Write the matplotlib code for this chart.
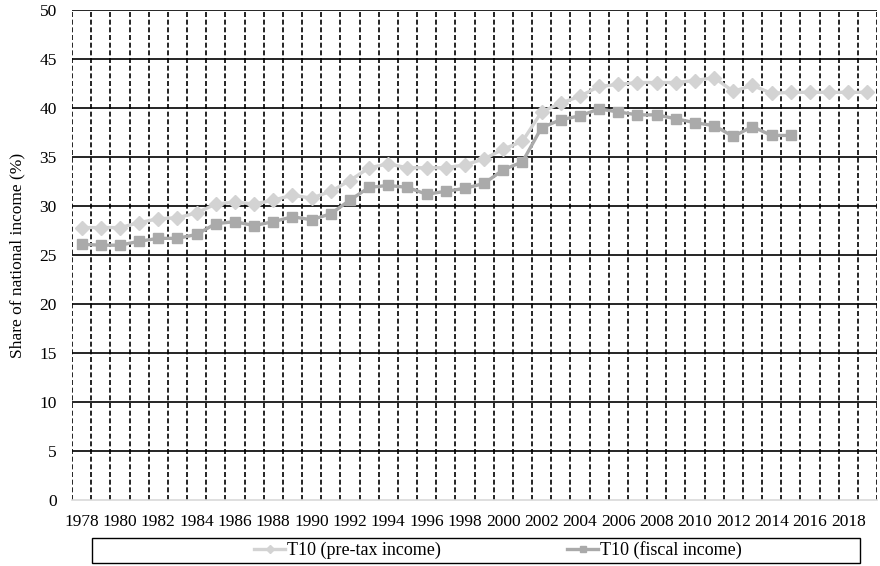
import numpy as np
import matplotlib.pyplot as plt
from matplotlib.patches import Rectangle

# T10 income shares, 1978-2019 (pre-tax) and 1978-2015 (fiscal)
years = list(range(1978, 2020))
pretax = [27.8, 27.8, 27.8, 28.3, 28.7, 28.8, 29.3, 30.2, 30.4, 30.2,
          30.6, 31.1, 30.8, 31.5, 32.6, 33.9, 34.3, 33.9, 33.9, 33.9,
          34.2, 34.8, 35.8, 36.6, 39.6, 40.5, 41.2, 42.2, 42.4, 42.6,
          42.6, 42.6, 42.8, 43.1, 41.7, 42.3, 41.5, 41.6, 41.6, 41.6,
          41.6, 41.6]
fiscal = [26.1, 26.0, 26.0, 26.4, 26.7, 26.7, 27.1, 28.2, 28.4, 28.0,
          28.4, 28.9, 28.6, 29.2, 30.6, 31.9, 32.1, 31.9, 31.2, 31.5,
          31.8, 32.3, 33.7, 34.5, 38.0, 38.8, 39.2, 39.9, 39.6, 39.3,
          39.3, 38.9, 38.5, 38.2, 37.1, 38.1, 37.2, 37.2]
yticks = list(range(0, 51, 5))

plt.rcParams['font.family'] = ['Liberation Serif', 'DejaVu Serif']

fig = plt.figure(figsize=(8.8, 5.66), dpi=100)
ax = fig.add_axes([72 / 880, 1 - 500 / 566, 805 / 880, 490 / 566])

x = np.arange(len(years))
ax.plot(x, pretax, '-D', color='#d3d3d3', lw=2.4, ms=7, label='T10 (pre-tax income)', zorder=3)
ax.plot(np.arange(len(fiscal)), fiscal, '-s', color='#aaaaaa', lw=2.4, ms=7, label='T10 (fiscal income)', zorder=3)

ax.set_xlim(-0.5, len(years) - 0.5)
ax.set_ylim(0, 50)

# horizontal solid grid
for v in yticks[1:]:
    ax.axhline(v, color='black', lw=1.2, zorder=1)
# vertical dashed grid at category boundaries
for b in np.arange(-0.5, len(years), 1.0):
    ax.axvline(b, color='black', lw=1.2, ls=(0, (3, 1.6)), zorder=1)

ax.set_yticks(yticks)
ax.set_yticklabels([str(v) for v in yticks], fontsize=12.5)
ax.set_xticks(x[::2])
ax.set_xticklabels([str(y) for y in years[::2]], fontsize=12.5)
ax.tick_params(length=0, pad=10)
ax.tick_params(axis='y', pad=11)
ax.set_ylabel('Share of national income (%)', fontsize=12.5, labelpad=10)

for s in ['top', 'right', 'left']:
    ax.spines[s].set_visible(False)
ax.spines['bottom'].set_color('#d9d9d9')
ax.spines['bottom'].set_linewidth(1.2)

# legend box
fig.patches.append(Rectangle((92 / 880, 1 - 563 / 566), 768 / 880, 25 / 566,
                             transform=fig.transFigure, fill=False,
                             edgecolor='black', lw=1.0))
h, l = ax.get_legend_handles_labels()
fig.legend(h, l, loc='center', bbox_to_anchor=(498 / 880, 1 - 550 / 566), ncol=2,
           frameon=False, fontsize=13, handlelength=1.7, handletextpad=0.1,
           columnspacing=7.0, markerscale=0.6)

fig.savefig('out.png', dpi=100)
